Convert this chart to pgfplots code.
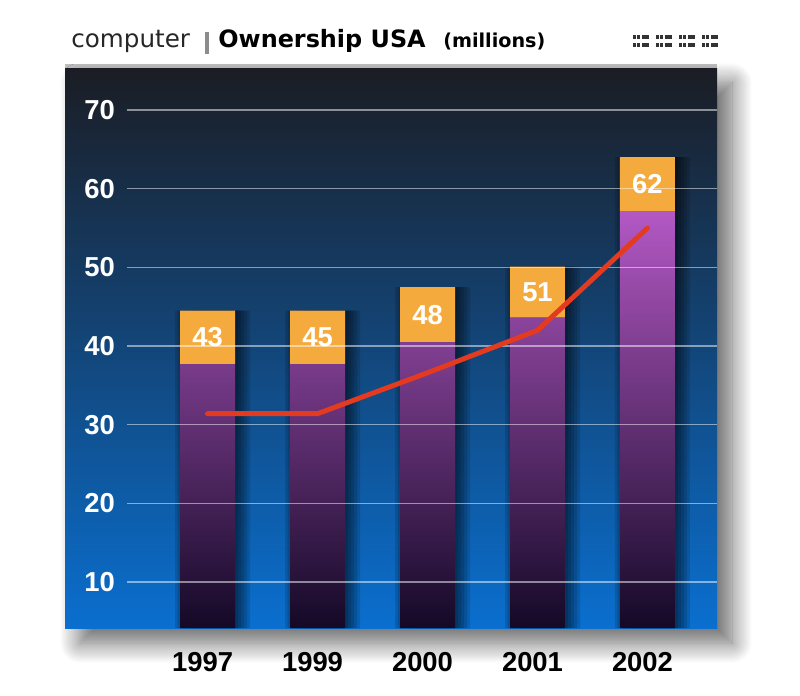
\documentclass[border=0pt]{standalone}
\usepackage{pgfplots}
\pgfplotsset{compat=1.18}
\usepackage{pgfplotstable}
\usepackage{fontspec}
\setmainfont{Liberation Sans}
\newfontfamily\titlefont{DejaVu Sans}
\usetikzlibrary{shadows.blur}

\definecolor{panTop}{HTML}{1B1D24}
\definecolor{panMid}{HTML}{12395F}
\definecolor{panBot}{HTML}{0A6FCF}
\definecolor{barTop}{HTML}{B358C4}
\definecolor{barBot}{HTML}{140926}
\definecolor{barOrange}{HTML}{F5AA3E}
\definecolor{lineRed}{HTML}{E43A1F}

% purple part, orange part, printed label
\pgfplotstableread{
x  low   top  lab
0  37.7  6.8  43
1  37.7  6.8  45
2  40.5  7.0  48
3  43.6  6.5  51
4  57.1  6.9  62
}\bars

% red line
\pgfplotstableread{
x  v
0  31.4
1  31.4
2  36.6
3  42.0
4  55.0
}\owned

\tikzset{tickfont/.style={font=\fontsize{15.6}{18}\selectfont\bfseries}}
\pgfplotsset{
  chartbox/.style={
    at={(2.54cm,1.34cm)}, anchor=south west,
    width=11.8cm, height=11.2cm, scale only axis,
    xmin=-0.732, xmax=4.632, ymin=4.16, ymax=75.34,
  },
}

\begin{document}
\begin{tikzpicture}
\path[use as bounding box] (0,0) rectangle (16cm,13.9cm);

% title
\node[anchor=base west, inner sep=0, text=black!85] at (1.42cm,12.94cm)
  {\titlefont\fontsize{14}{16}\selectfont computer};
\fill[black!45] (4.1cm,12.82cm) rectangle (4.17cm,13.25cm);
\node[anchor=base west, inner sep=0] at (4.36cm,12.94cm)
  {\titlefont\bfseries\fontsize{13.6}{16}\selectfont Ownership USA};
\node[anchor=base west, inner sep=0] at (8.86cm,12.94cm)
  {\titlefont\bfseries\fontsize{10.9}{13}\selectfont (millions)};

% small icons top right
\foreach \i in {0,1,2,3}{
  \foreach \dx in {0,0.075,0.17,0.245}{
    \foreach \dy in {0,0.16}{
      \fill[black!80] ({12.66cm+\i*0.46cm+\dx cm},{12.96cm+\dy cm}) rectangle ++(0.065cm,0.085cm);
    }
  }
}

% panel
\fill[black!25] (1.3cm,12.54cm) rectangle (14.34cm,12.62cm);
\path[blur shadow={shadow xshift=0.3cm, shadow yshift=-0.3cm, shadow blur radius=0.4cm,
                   shadow blur steps=20, shadow opacity=60},
      top color=panTop, middle color=panMid, bottom color=panBot]
  (1.3cm,1.34cm) rectangle (14.34cm,12.54cm);

% bar shadows
\begin{axis}[chartbox, hide axis, ybar, bar width=0.5, clip=true]
  \pgfplotsinvokeforeach{0.06,0.12,0.18,0.24,0.3,-0.05,-0.1}{
    \addplot[fill=black, draw=none, opacity=0.13, bar shift=#1cm]
      table[x=x, y expr=\thisrow{low}+\thisrow{top}] {\bars};
  }
\end{axis}

% bars
\begin{axis}[chartbox,
  ybar stacked, bar width=0.5,
  axis on top,
  axis line style={draw=none},
  tick style={draw=none},
  ytick={10,20,...,70},
  xtick={0,...,4},
  xticklabels={1997,1999,2000,2001,2002},
  ymajorgrids,
  major grid style={white, opacity=0.5, line width=0.8pt},
  yticklabel style={tickfont, text=white, xshift=-0.12cm},
  xticklabel style={tickfont, text=black, yshift=-0.36cm, xshift=-0.1cm},
  /pgf/number format/assume math mode=true,
]
  \addplot[draw=none, top color=barTop, bottom color=barBot]
    table[x=x, y=low] {\bars};
  \addplot[draw=none, fill=barOrange,
    point meta=explicit symbolic,
    nodes near coords,
    every node near coord/.append style={tickfont, text=white, anchor=center, yshift=0cm}]
    table[x=x, y=top, meta=lab] {\bars};
\end{axis}

% line
\begin{axis}[chartbox, hide axis]
  \addplot[lineRed, line width=2.8pt, line cap=round, line join=round, mark=none]
    table[x=x, y=v] {\owned};
\end{axis}
\end{tikzpicture}
\end{document}
